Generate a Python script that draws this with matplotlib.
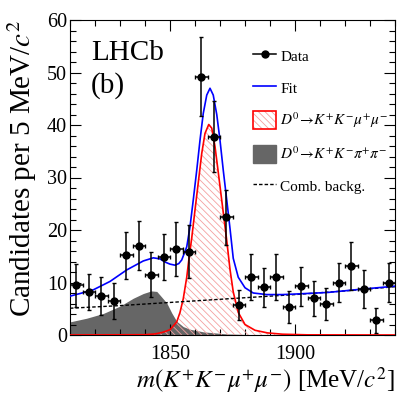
import numpy as np
import matplotlib.pyplot as plt
from matplotlib.lines import Line2D
from matplotlib.patches import Patch
from matplotlib.ticker import MultipleLocator
from matplotlib.legend_handler import HandlerTuple

plt.rcParams['font.family'] = ['Liberation Serif', 'DejaVu Serif']
plt.rcParams['mathtext.fontset'] = 'stix'
plt.rcParams['hatch.linewidth'] = 0.6

# data points (5 MeV bins)
mass = [1812.5, 1817.5, 1822.5, 1827.5, 1832.5, 1837.5, 1842.5, 1847.5, 1852.5,
        1857.5, 1862.5, 1867.5, 1872.5, 1877.5, 1882.5, 1887.5, 1892.5, 1897.5,
        1902.5, 1907.5, 1912.5, 1917.5, 1922.5, 1927.5, 1932.5, 1937.5]
counts = [9.5, 8.2, 7.5, 6.5, 15.2, 17.0, 11.5, 14.9, 16.4, 15.9, 49.2, 37.8,
          22.4, 5.7, 11.0, 9.1, 11.0, 5.3, 9.3, 7.0, 5.9, 10.0, 13.1, 8.8, 2.8, 10.0]
errs = [4.1, 3.5, 3.6, 3.4, 4.5, 4.7, 4.3, 4.4, 5.2, 5.0, 7.5, 6.7, 5.2, 2.9,
        4.4, 3.7, 4.4, 3.0, 3.7, 3.3, 3.0, 3.8, 4.6, 3.6, 2.4, 3.8]

# fit components
fit_m = [1810, 1814, 1819.3, 1826, 1832.7, 1839.3, 1843.3, 1846, 1848, 1850, 1852,
         1853.5, 1854.7, 1856.7, 1858, 1859.3, 1860.7, 1862, 1863.3, 1864.7, 1866,
         1867.3, 1868.7, 1870, 1871.3, 1872.7, 1874, 1875.3, 1877.3, 1880, 1883.3,
         1888.7, 1895, 1900, 1913, 1926, 1940]
fit_v = [7.4, 7.9, 8.6, 10.2, 12.4, 14.1, 14.7, 14.5, 13.9, 13.5, 13.3,
         13.6, 14.3, 16.8, 20.6, 25.7, 31.4, 37.1, 42.2, 45.7, 47.0,
         45.7, 42.0, 37.1, 31.4, 25.7, 20.3, 14.6, 11.0, 9.0, 8.0,
         7.7, 7.7, 7.8, 8.1, 8.7, 9.3]

sig_m = [1810, 1840, 1844, 1847, 1850, 1852.7, 1854, 1855.3, 1856.7, 1857.7, 1858.7,
         1860, 1861.3, 1862.7, 1864, 1865.5, 1866.7, 1868, 1869.7, 1871, 1872.7,
         1874, 1875.3, 1877.3, 1880, 1884, 1889, 1895, 1905, 1940]
sig_v = [0.0, 0.05, 0.2, 0.5, 1.0, 2.5, 4.3, 6.9, 11.0, 15.0, 18.5,
         23.8, 29.0, 34.6, 38.4, 40.1, 39.4, 35.9, 29.5, 24.5, 18.0,
         12.5, 8.2, 4.3, 2.0, 0.9, 0.4, 0.15, 0.03, 0.0]

pk_m = [1810, 1816.7, 1823.3, 1830, 1835.3, 1839.3, 1842.5, 1844.7, 1846, 1848.7,
        1850.7, 1852.7, 1855.3, 1858, 1863.3, 1872.7, 1885, 1900, 1940]
pk_v = [2.5, 3.2, 4.1, 5.5, 7.0, 7.9, 8.4, 8.3, 7.6, 6.1,
        4.2, 2.6, 1.6, 1.1, 0.6, 0.2, 0.05, 0.0, 0.0]

comb_m = [1810, 1830, 1850, 1870, 1890, 1900, 1920, 1940]
comb_v = [5.1, 5.6, 6.2, 6.8, 7.4, 7.7, 8.4, 9.2]

fig = plt.figure(figsize=(4.15, 3.99), dpi=100)
ax = fig.add_axes([70/415, 64/399, 325/415, 315/399])

ax.fill_between(pk_m, pk_v, 0, color='#666666', lw=0, zorder=1)
ax.fill_between(sig_m, sig_v, 0, facecolor='none', edgecolor='#f4a0a0',
                hatch='\\' * 5, lw=0, zorder=2)
ax.plot(sig_m, sig_v, color='red', lw=1.2, zorder=3)
ax.plot(comb_m, comb_v, color='black', lw=1.0, ls=(0, (2.5, 1.5)), zorder=3)
ax.plot(fit_m, fit_v, color='blue', lw=1.2, zorder=4)
ax.errorbar(mass, counts, yerr=errs, xerr=2.5, fmt='o', color='black', ms=5,
            elinewidth=1.1, capsize=1.5, capthick=1.0, zorder=5)

ax.set_xlim(1810, 1940)
ax.set_ylim(0, 60)
ax.xaxis.set_major_locator(MultipleLocator(50))
ax.xaxis.set_minor_locator(MultipleLocator(10))
ax.yaxis.set_major_locator(MultipleLocator(10))
ax.yaxis.set_minor_locator(MultipleLocator(2))
ax.tick_params(which='both', direction='in', top=True, right=True, labelsize=14.5)
ax.tick_params(which='major', length=8, width=0.8)
ax.tick_params(which='minor', length=4, width=0.8)
ax.tick_params(axis='x', pad=7)
ax.tick_params(axis='y', pad=2)

ax.set_xlabel(r'$m(K^{+}K^{-}\mu^{+}\mu^{-})$ [MeV/$c^{2}$]', fontsize=18,
              ha='right', x=1.0, labelpad=1)
ax.set_ylabel(r'Candidates per 5 MeV/$c^{2}$', fontsize=21, ha='right', y=1.0,
              labelpad=6)

ax.text(0.065, 0.873, 'LHCb', transform=ax.transAxes, fontsize=21, va='baseline')
ax.text(0.065, 0.768, '(b)', transform=ax.transAxes, fontsize=21, va='baseline')

h_data = Line2D([], [], color='black', marker='o', ms=5, lw=1.1)
h_fit = Line2D([], [], color='blue', lw=1.2)
h_sig = (Patch(facecolor='white', edgecolor='#f4a0a0', hatch='\\' * 5, lw=0),
         Patch(facecolor='none', edgecolor='red', lw=1.2))
h_pk = Patch(facecolor='#666666', edgecolor='#666666')
h_comb = Line2D([], [], color='black', lw=1.0, ls=(0, (2.5, 1.5)))
ax.legend([h_data, h_fit, h_sig, h_pk, h_comb],
          ['Data', 'Fit', r'$D^{0}\!\rightarrow\!K^{+}K^{-}\mu^{+}\mu^{-}$',
           r'$D^{0}\!\rightarrow\!K^{+}K^{-}\pi^{+}\pi^{-}$', 'Comb. backg.'],
          handler_map={tuple: HandlerTuple(ndivide=1)},
          loc='upper left', bbox_to_anchor=(0.564, 0.916), frameon=False,
          fontsize=11, handlelength=1.5, handleheight=1.45, handletextpad=0.25,
          labelspacing=0.92, borderpad=0, borderaxespad=0)

fig.savefig('out.png', dpi=100)
